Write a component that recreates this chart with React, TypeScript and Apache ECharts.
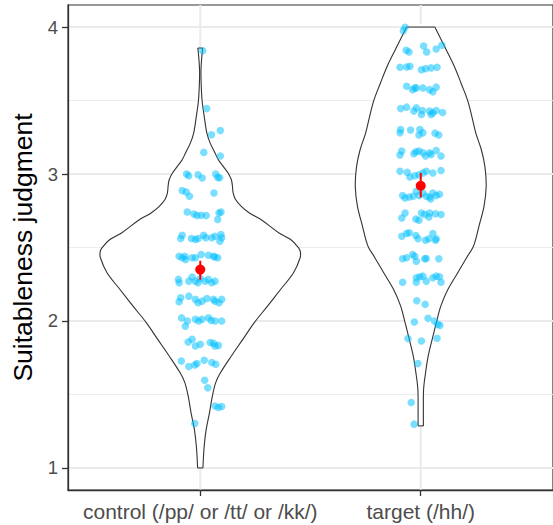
import React, { useEffect, useRef } from "react";
import * as echarts from "echarts";

// ---------- data ----------
const CATEGORIES = ["control (/pp/ or /tt/ or /kk/)", "target (/hh/)"];
const X_TICKS = [1, 2];
const Y_TICKS = [1, 2, 3, 4];
const Y_MINOR = [1.5, 2.5, 3.5];

// jittered observations (x = category position with jitter, y = rating)
const controlX = [
  1.011, 1.029, 1.051, 1.091, 1.016, 1.091,
  0.938, 0.948, 0.99, 1.009, 1.07, 1.079, 1.088,
  0.918, 0.936, 0.951, 1.062,
  0.941, 0.971, 0.985, 1.004, 1.027, 1.085, 1.094, 1.079,
  0.911, 0.918, 0.96, 0.978, 0.99, 1.015, 1.025, 1.052, 1.067, 1.094, 1.097, 1.089,
  0.904, 0.918, 0.93, 0.933, 0.963, 0.978, 1.004, 1.037, 1.06, 1.079, 1.066,
  0.901, 0.904, 0.948, 0.963, 0.978, 1.0, 1.022, 1.037, 1.052, 1.067, 0.99,
  0.911, 0.904, 0.948, 0.978, 0.99, 1.008, 1.03, 1.06, 1.067, 1.097, 1.085,
  0.915, 0.941, 0.978, 0.993, 1.008, 1.037, 1.049, 1.067, 1.097, 0.932,
  0.945, 0.963, 0.978, 1.0, 1.045, 1.06, 1.067, 1.082,
  0.914, 0.948, 0.975, 0.985, 1.018, 1.052, 1.07,
  1.02, 1.034, 1.067, 1.082, 1.097, 0.975,
];
const controlY = [
  3.839, 3.445, 3.267, 3.296, 3.147, 3.122,
  3.0, 2.988, 2.995, 2.973, 3.0, 2.977, 2.975,
  2.887, 2.878, 2.848, 2.871,
  2.742, 2.728, 2.717, 2.719, 2.717, 2.735, 2.742, 2.69,
  2.561, 2.583, 2.561, 2.554, 2.561, 2.583, 2.566, 2.566, 2.576, 2.588, 2.566, 2.542,
  2.441, 2.43, 2.441, 2.418, 2.43, 2.43, 2.452, 2.447, 2.441, 2.43, 2.435,
  2.283, 2.26, 2.271, 2.299, 2.271, 2.289, 2.271, 2.283, 2.26, 2.271, 2.26,
  2.158, 2.131, 2.169, 2.147, 2.124, 2.135, 2.153, 2.147, 2.135, 2.147, 2.124,
  2.021, 2.0, 2.011, 2.0, 2.011, 2.022, 2.004, 2.0, 2.0, 1.965,
  1.857, 1.875, 1.83, 1.841, 1.853, 1.848, 1.83, 1.834,
  1.728, 1.69, 1.701, 1.71, 1.733, 1.717, 1.705,
  1.597, 1.545, 1.422, 1.411, 1.418, 1.303,
];
const targetX = [
  1.921, 1.929,
  1.934, 1.947, 2.013, 2.027, 2.07, 2.096,
  1.906, 1.936, 1.951, 2.003, 2.022, 2.047, 2.074,
  1.936, 1.963, 1.973, 1.98, 2.01, 2.04, 2.055, 2.07,
  1.909, 1.936, 1.969, 1.98, 2.003, 2.007, 2.04, 2.047, 2.07, 2.099, 2.055,
  1.906, 1.909, 1.954, 1.996, 1.992, 2.01, 2.065, 2.082,
  1.906, 1.914, 1.969, 1.978, 1.992, 2.01, 2.022, 2.04, 2.047, 2.07, 2.092,
  1.906, 1.939, 1.951, 1.973, 1.992, 2.025, 2.055, 2.092, 2.01,
  1.918, 1.929, 1.948, 1.966, 1.98, 1.992, 2.01, 2.025, 2.04, 2.055, 2.07, 2.085, 2.045,
  1.914, 1.929, 1.978, 1.992, 2.003, 2.018, 2.037, 2.04, 2.067, 2.092,
  1.914, 1.936, 1.948, 1.978, 1.988, 2.022, 2.037, 2.055, 2.067, 2.07,
  1.918, 1.936, 1.963, 1.973, 1.98, 2.018, 2.025, 2.082,
  1.918, 1.98, 1.996, 2.01, 2.025, 2.055, 2.07, 2.085, 2.092, 1.98,
  1.982, 2.02, 1.971, 2.033, 2.062, 2.077, 2.087, 1.942, 2.003, 2.074, 1.987, 1.957, 1.97,
];
const targetY = [
  3.975, 3.998,
  3.842, 3.83, 3.871, 3.83, 3.851, 3.876,
  3.726, 3.728, 3.733, 3.71, 3.717, 3.722, 3.726,
  3.597, 3.574, 3.586, 3.586, 3.586, 3.574, 3.559, 3.591,
  3.445, 3.455, 3.428, 3.45, 3.405, 3.432, 3.428, 3.405, 3.432, 3.418, 3.416,
  3.28, 3.303, 3.299, 3.303, 3.265, 3.28, 3.278, 3.265,
  3.129, 3.156, 3.138, 3.151, 3.156, 3.145, 3.122, 3.145, 3.133, 3.16, 3.122,
  3.018, 3.011, 2.98, 2.988, 2.995, 3.018, 3.007, 3.024, 3.007,
  2.853, 2.837, 2.844, 2.848, 2.882, 2.853, 2.871, 2.848, 2.844, 2.871, 2.853, 2.862, 2.83,
  2.701, 2.735, 2.694, 2.685, 2.735, 2.724, 2.708, 2.735, 2.73, 2.724,
  2.576, 2.595, 2.6, 2.581, 2.559, 2.549, 2.559, 2.595, 2.549, 2.559,
  2.423, 2.43, 2.452, 2.441, 2.407, 2.423, 2.425, 2.423,
  2.264, 2.294, 2.301, 2.305, 2.271, 2.294, 2.305, 2.301, 2.264, 2.264,
  2.138, 2.113, 1.993, 2.018, 2.0, 1.977, 1.97, 1.88, 1.864, 1.882, 1.71, 1.445, 1.298,
];

// violin outlines: rating levels and half-widths (category units)
const controlViolinY = [
  1.0, 1.151, 1.264, 1.377, 1.49, 1.581, 1.649, 1.762, 1.875, 1.989, 2.101, 2.214, 2.328, 2.43, 2.47,
  2.498, 2.554, 2.599, 2.69, 2.735, 2.78, 2.826, 2.871, 2.916, 2.961, 3.007, 3.052, 3.097, 3.143,
  3.21, 3.278, 3.391, 3.504, 3.618, 3.7, 3.78, 3.857,
];
const controlViolinW = [
  0.012, 0.018, 0.027, 0.042, 0.055, 0.07, 0.092, 0.141, 0.193, 0.245, 0.305, 0.364, 0.423, 0.453, 0.454,
  0.446, 0.41, 0.357, 0.275, 0.223, 0.186, 0.16, 0.149, 0.146, 0.141, 0.126, 0.104, 0.082, 0.067,
  0.045, 0.03, 0.018, 0.008, 0.004, 0.003, 0.006, 0.011,
];
const targetViolinY = [
  1.286, 1.422, 1.536, 1.649, 1.762, 1.875, 1.989, 2.101, 2.214, 2.328, 2.441, 2.498, 2.554,
  2.644, 2.78, 2.916, 3.052, 3.165, 3.278, 3.391, 3.504, 3.618, 3.73, 3.844, 4.0,
];
const targetViolinW = [
  0.012, 0.012, 0.013, 0.022, 0.034, 0.052, 0.071, 0.091, 0.123, 0.168, 0.212, 0.236, 0.249,
  0.264, 0.287, 0.297, 0.291, 0.275, 0.25, 0.232, 0.212, 0.183, 0.153, 0.116, 0.064,
];

// group means with confidence intervals
const meanValues = [2.35, 2.92];
const ciLow = [2.28, 2.84];
const ciHigh = [2.41, 3.007];

// ---------- component ----------
const FONT = "'Liberation Sans', Arial, Helvetica, sans-serif";
const AXIS_COLOR = "#333333";

export default function App() {
  const ref = useRef<HTMLDivElement>(null);

  useEffect(() => {
    if (!ref.current) return;
    const chart = echarts.init(ref.current, undefined, { renderer: "svg" });

    const violins = [
      { y: controlViolinY, w: controlViolinW, c: X_TICKS[0] },
      { y: targetViolinY, w: targetViolinW, c: X_TICKS[1] },
    ];

    const pointsControl = controlX.map((x, i) => [x, controlY[i]]);
    const pointsTarget = targetX.map((x, i) => [x, targetY[i]]);

    const option: any = {
      animation: false,
      grid: {
        left: 68,
        top: 5,
        width: 494,
        height: 485,
        show: true,
        borderColor: AXIS_COLOR,
        borderWidth: 1.2,
        backgroundColor: "transparent",
      },
      xAxis: {
        type: "value",
        min: 0.4,
        max: 2.6,
        z: 10,
        axisLine: { show: true, onZero: false, lineStyle: { color: AXIS_COLOR, width: 1.3 } },
        axisTick: { show: true, customValues: X_TICKS, length: 6, lineStyle: { color: AXIS_COLOR, width: 1.3 } },
        axisLabel: {
          customValues: X_TICKS,
          formatter: (v: number) => {
            const i = X_TICKS.indexOf(Math.round(v * 1000) / 1000);
            return i >= 0 ? CATEGORIES[i] : "";
          },
          color: "#4D4D4D",
          fontSize: 21,
          fontFamily: FONT,
          margin: 11,
        },
        splitLine: { show: false },
      },
      yAxis: {
        type: "value",
        min: 0.85,
        max: 4.15,
        z: 10,
        axisLine: { show: true, onZero: false, lineStyle: { color: AXIS_COLOR, width: 1.3 } },
        axisTick: { show: true, customValues: Y_TICKS, length: 6, lineStyle: { color: AXIS_COLOR, width: 1.3 } },
        axisLabel: {
          customValues: Y_TICKS,
          formatter: (v: number) => (Y_TICKS.indexOf(Math.round(v * 1000) / 1000) >= 0 ? String(Math.round(v)) : ""),
          color: "#4D4D4D",
          fontSize: 18.5,
          fontFamily: FONT,
          margin: 10,
        },
        splitLine: { show: false },
      },
      graphic: [
        {
          type: "text",
          x: 23,
          y: 247.5,
          rotation: Math.PI / 2,
          style: {
            text: "Suitableness judgment",
            fill: "#000000",
            font: `26.5px ${FONT}`,
            textAlign: "center",
            textVerticalAlign: "middle",
          },
        },
      ],
      series: [
        {
          type: "custom",
          name: "grid",
          silent: true,
          z: 1,
          data: [0],
          renderItem: (_params: any, api: any) => {
            const children: any[] = [];
            Y_MINOR.forEach((v) => {
              const a = api.coord([0.4, v]);
              const b = api.coord([2.6, v]);
              children.push({ type: "line", shape: { x1: a[0], y1: a[1], x2: b[0], y2: b[1] }, style: { stroke: "#EDEDED", lineWidth: 1 } });
            });
            Y_TICKS.forEach((v) => {
              const a = api.coord([0.4, v]);
              const b = api.coord([2.6, v]);
              children.push({ type: "line", shape: { x1: a[0], y1: a[1], x2: b[0], y2: b[1] }, style: { stroke: "#EBEBEB", lineWidth: 2 } });
            });
            X_TICKS.forEach((v) => {
              const a = api.coord([v, 0.85]);
              const b = api.coord([v, 4.15]);
              children.push({ type: "line", shape: { x1: a[0], y1: a[1], x2: b[0], y2: b[1] }, style: { stroke: "#EBEBEB", lineWidth: 2 } });
            });
            return { type: "group", children };
          },
        },
        {
          type: "custom",
          name: "violin",
          silent: true,
          z: 2,
          data: [0, 1],
          renderItem: (params: any, api: any) => {
            const v = violins[params.dataIndex];
            const left: number[][] = [];
            const right: number[][] = [];
            for (let i = 0; i < v.y.length; i++) left.push(api.coord([v.c - v.w[i], v.y[i]]));
            for (let i = v.y.length - 1; i >= 0; i--) right.push(api.coord([v.c + v.w[i], v.y[i]]));
            const all = left.concat(right);
            const stroke = { fill: "none", stroke: "#333333", lineWidth: 1.1 };
            return {
              type: "group",
              children: [
                { type: "polygon", shape: { points: all, smooth: 0.35 }, style: { fill: "#FFFFFF", stroke: "none" } },
                { type: "polyline", shape: { points: left, smooth: 0.35 }, style: stroke },
                { type: "polyline", shape: { points: right, smooth: 0.35 }, style: stroke },
                { type: "line", shape: { x1: left[left.length - 1][0], y1: left[left.length - 1][1], x2: right[0][0], y2: right[0][1] }, style: stroke },
                { type: "line", shape: { x1: left[0][0], y1: left[0][1], x2: right[right.length - 1][0], y2: right[right.length - 1][1] }, style: stroke },
              ],
            };
          },
        },
        {
          type: "scatter",
          name: "control",
          z: 3,
          symbol: "circle",
          symbolSize: 7.5,
          itemStyle: { color: "rgba(0,191,255,0.65)" },
          data: pointsControl,
        },
        {
          type: "scatter",
          name: "target",
          z: 3,
          symbol: "circle",
          symbolSize: 7.5,
          itemStyle: { color: "rgba(0,191,255,0.65)" },
          data: pointsTarget,
        },
        {
          type: "custom",
          name: "ci",
          z: 4,
          silent: true,
          data: X_TICKS.map((x, i) => [x, ciLow[i], ciHigh[i]]),
          renderItem: (_params: any, api: any) => {
            const a = api.coord([api.value(0), api.value(1)]);
            const b = api.coord([api.value(0), api.value(2)]);
            return {
              type: "line",
              shape: { x1: a[0], y1: a[1], x2: b[0], y2: b[1] },
              style: { stroke: "#FF0000", lineWidth: 2 },
            };
          },
        },
        {
          type: "scatter",
          name: "mean",
          z: 5,
          symbol: "circle",
          symbolSize: 10,
          itemStyle: { color: "#FF0000", opacity: 1 },
          data: X_TICKS.map((x, i) => [x, meanValues[i]]),
        },
      ],
    };

    chart.setOption(option);
    return () => chart.dispose();
  }, []);

  return (
    <div style={{ position: "absolute", left: 0, top: 0, width: 553, height: 525, overflow: "hidden", background: "#fff" }}>
      <div ref={ref} style={{ width: 553, height: 525 }} />
    </div>
  );
}
